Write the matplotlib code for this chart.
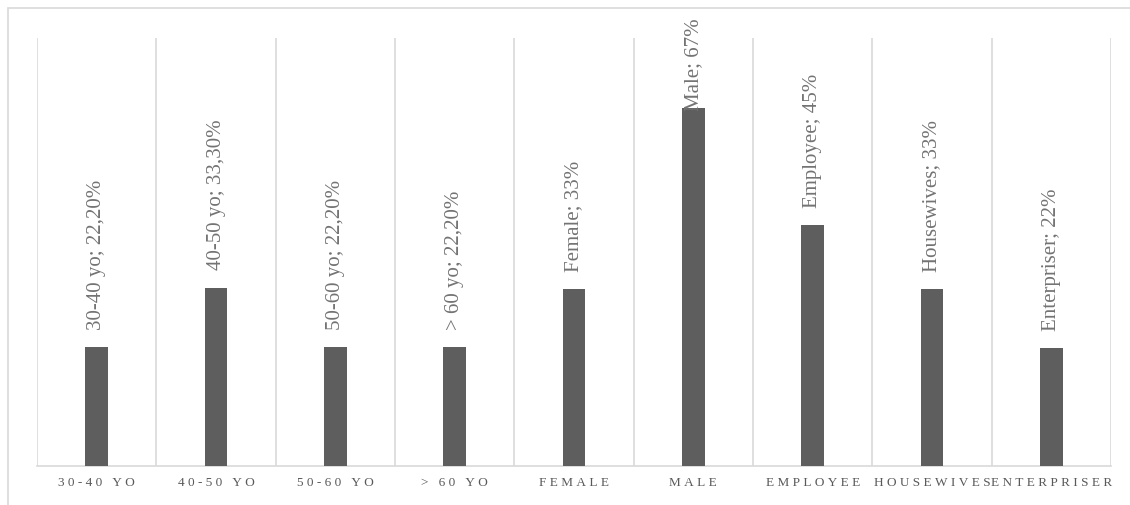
import matplotlib.pyplot as plt
from matplotlib.patches import Rectangle

# data
categories = ["30-40 YO", "40-50 YO", "50-60 YO", "> 60 YO", "FEMALE",
              "MALE", "EMPLOYEE", "HOUSEWIVES", "ENTERPRISER"]
values = [22.2, 33.3, 22.2, 22.2, 33, 67, 45, 33, 22]
bar_labels = ["30-40 yo; 22,20%", "40-50 yo; 33,30%", "50-60 yo; 22,20%",
              "> 60 yo; 22,20%", "Female; 33%", "Male; 67%", "Employee; 45%",
              "Housewives; 33%", "Enterpriser; 22%"]

plt.rcParams['font.family'] = ['Liberation Serif', 'DejaVu Serif']

fig = plt.figure(figsize=(11.3, 5.05), dpi=100)
W, H = 1130, 505
ax = fig.add_axes([37 / W, 1 - 466 / H, (1111 - 37) / W, (466 - 38) / H])

x = list(range(len(categories)))
ax.bar(x, values, width=0.19, color='#5e5e5e', zorder=3)

labels = []
for xi, v, lab in zip(x, values, bar_labels):
    t = ax.annotate(lab, (xi, v), xytext=(0, 12.5), textcoords='offset points',
                    rotation=90, ha='center', va='bottom', fontsize=15,
                    color='#737373', annotation_clip=False, zorder=4)
    labels.append(t)

ax.set_xlim(-0.5, len(categories) - 0.5)
ax.set_ylim(0, 80)
ax.set_yticks([])

# vertical separators between categories
for b in [i - 0.5 for i in range(len(categories) + 1)]:
    ax.axvline(b, color='#d9d9d9', lw=1.2, zorder=1)

ax.set_xticks(x)
spaced = ["\u2005".join(c) for c in categories]
ax.set_xticklabels(spaced, fontsize=9.5, color='#595959')
ax.tick_params(axis='x', length=0, pad=8)

for s in ['top', 'left', 'right']:
    ax.spines[s].set_visible(False)
ax.spines['bottom'].set_color('#d9d9d9')
ax.spines['bottom'].set_linewidth(1.2)

# outer chart border
fig.patches.append(Rectangle((8 / W, -0.1), 1.2, 1 - 8 / H + 0.1,
                             transform=fig.transFigure, fill=False,
                             edgecolor='#d9d9d9', lw=1.2))

# keep labels inside the chart area (push down like Excel does)
fig.canvas.draw()
r = fig.canvas.get_renderer()
limit = H - 18
for t in labels:
    bb = t.get_window_extent(r)
    if bb.y1 > limit:
        ox, oy = t.xyann
        t.xyann = (ox, oy - (bb.y1 - limit) * 72 / fig.dpi)

fig.savefig('out.png', dpi=100)
